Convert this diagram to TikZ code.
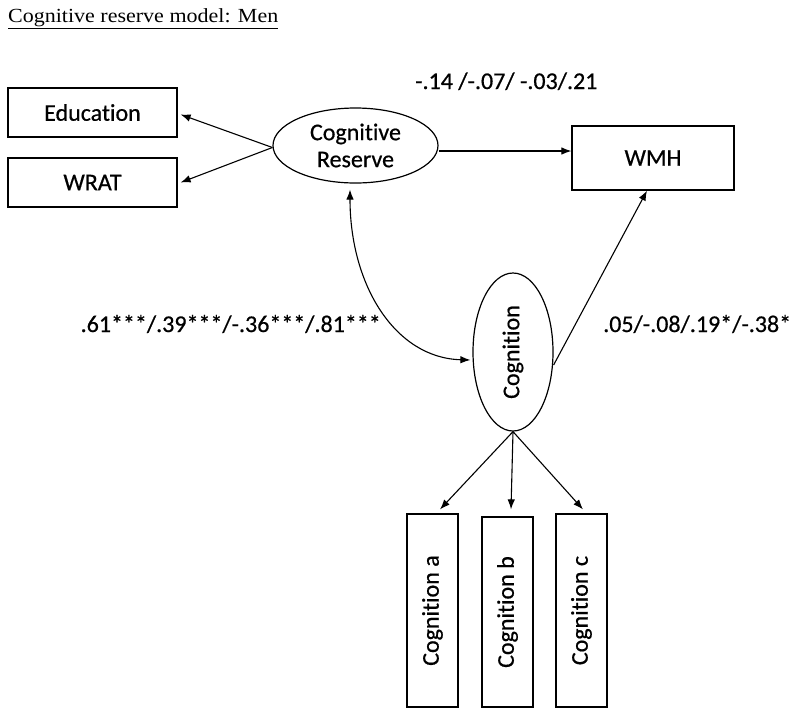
\documentclass[tikz,border=0pt]{standalone}
\usepackage{fontspec}
\usepackage{graphicx}
\setmainfont[Ligatures={NoCommon},FakeBold=0.6]{Carlito}
\newfontfamily\titlefont{Liberation Serif}
\usetikzlibrary{shapes.geometric,arrows.meta,calc}
\begin{document}
\begin{tikzpicture}[x=1pt,y=-1pt,
  box/.style={draw,line width=1.2pt,inner sep=0pt,font=\fontsize{24}{27}\selectfont},
  lat/.style={draw,ellipse,line width=1.2pt,inner sep=0pt,font=\fontsize{24}{27}\selectfont,align=center},
  arr/.style={line width=1.1pt,-{Latex[length=10pt,width=7.5pt]}},
  darr/.style={line width=1.1pt,{Latex[length=10pt,width=7.5pt]}-{Latex[length=10pt,width=7.5pt]}},
  lab/.style={font=\fontsize{24}{27}\selectfont,inner sep=0pt}]
\useasboundingbox (0,0) rectangle (800,716);
\node[anchor=base west,inner sep=0pt,font=\titlefont\fontsize{20}{23}\selectfont] (title) at (8,22) {\underline{\scalebox{1.1}[1]{Cognitive reserve model: Men}}};
\node[box,minimum width=169pt,minimum height=49pt] (edu) at (92.5,112.5) {Education};
\node[box,minimum width=169pt,minimum height=49pt] (wrat) at (92.5,182.5) {WRAT};
\node[lat,minimum width=165pt,minimum height=75pt] (cr) at (355.5,145.5) {Cognitive\\Reserve};
\node[box,minimum width=162pt,minimum height=64pt] (wmh) at (653,158) {WMH};
\node[lat,minimum width=80pt,minimum height=158pt] (cog) at (513,352) {\rotatebox{90}{Cognition}};
\node[box,minimum width=51pt,minimum height=193pt] (ca) at (432.5,610.5) {\rotatebox{90}{Cognition a}};
\node[box,minimum width=51pt,minimum height=190pt] (cb) at (507.5,612) {\rotatebox{90}{Cognition b}};
\node[box,minimum width=51pt,minimum height=193pt] (cc) at (581.5,610.5) {\rotatebox{90}{Cognition c}};
\node[lab,anchor=base west] (l1) at (415,89) {-.14 /-.07/ -.03/.21};
\node[lab,anchor=base east] (l2) at (381,332) {.61***/.39***/-.36***/.81***};
\node[lab,anchor=base west] (l3) at (603,332) {.05/-.08/.19*/-.38*};
\draw[arr] ($(cr.west)+(0,2)$) -- ($(edu.east)+(3,2)$);
\draw[arr] ($(cr.west)+(0,2)$) -- ($(wrat.east)+(3,0)$);
\draw[arr] ($(cr.east)+(0,5.5)$) -- ($(wmh.west)+(0,-7)$);
\draw[arr] ($(cog.east)+(0,13)$) -- ($(wmh.south)+(-6,0)$);
\draw[darr] ($(cr.south)+(-5.5,6)$) .. controls (350,285) and (395,358) .. ($(cog.west)+(-2,8)$);
\draw[arr] (cog.south) -- ($(ca.north)+(7.5,-4)$);
\draw[arr] (cog.south) -- ($(cb.north)+(3.5,-7)$);
\draw[arr] (cog.south) -- ($(cc.north)+(1.5,-4)$);
\end{tikzpicture}
\end{document}
